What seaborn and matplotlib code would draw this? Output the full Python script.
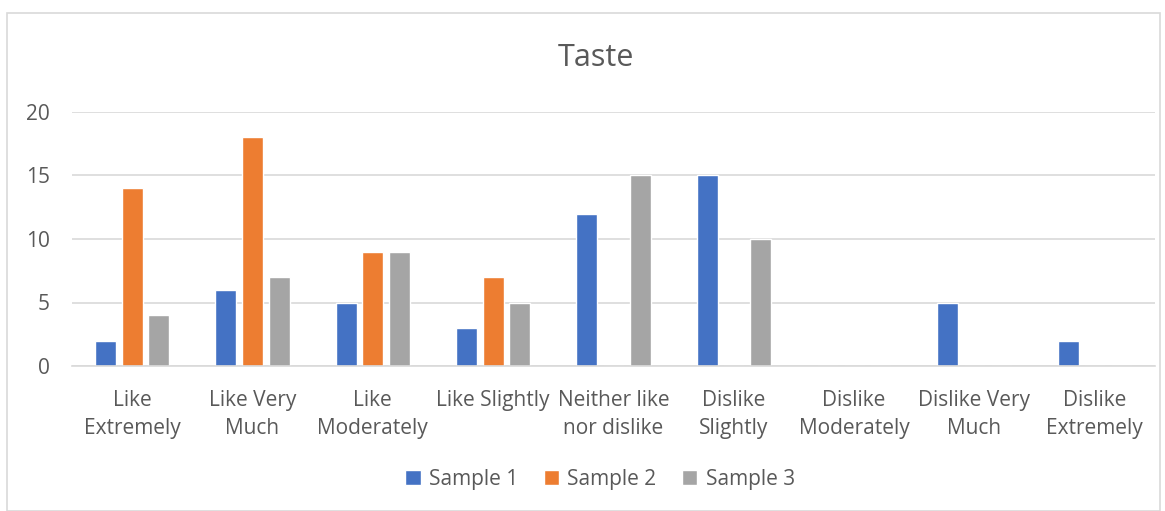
import pandas as pd
import matplotlib.pyplot as plt
import seaborn as sns
from matplotlib.patches import Rectangle

# Taste ratings per sample
categories = ['Like\nExtremely', 'Like Very\nMuch', 'Like\nModerately', 'Like Slightly',
              'Neither like\nnor dislike', 'Dislike\nSlightly', 'Dislike\nModerately',
              'Dislike Very\nMuch', 'Dislike\nExtremely']
samples = ['Sample 1', 'Sample 2', 'Sample 3']
sample1 = [2, 6, 5, 3, 12, 15, 0, 5, 2]
sample2 = [14, 18, 9, 7, 0, 0, 0, 0, 0]
sample3 = [4, 7, 9, 5, 15, 10, 0, 0, 0]
colors = ['#4472C4', '#ED7D31', '#A5A5A5']

df = pd.DataFrame({'category': categories * 3,
                   'sample': [s for s in samples for _ in categories],
                   'value': sample1 + sample2 + sample3})

sns.set_style('white')
plt.rcParams['font.family'] = ['Open Sans', 'DejaVu Sans']
text_col = '#595959'

fig = plt.figure(figsize=(11.65, 5.11), dpi=100)
ax = fig.add_axes([72 / 1165, 1 - 366 / 511, 1083 / 1165, 254 / 511])

sns.barplot(data=df, x='category', y='value', hue='sample', palette=colors,
            saturation=1, width=0.666, gap=0.21, order=categories,
            hue_order=samples, ax=ax, legend=True)

ax.set_ylim(0, 20)
ax.set_xlim(-0.5, len(categories) - 0.5)
ax.set_yticks([0, 5, 10, 15, 20])
ax.yaxis.grid(True, color='#D9D9D9', linewidth=1.2)
ax.set_axisbelow(True)
for s in ['left', 'right', 'top']:
    ax.spines[s].set_visible(False)
ax.spines['bottom'].set_color('#D9D9D9')
ax.spines['bottom'].set_linewidth(1.2)
ax.tick_params(axis='both', length=0, labelsize=15, colors=text_col)
ax.tick_params(axis='y', pad=16)
ax.tick_params(axis='x', pad=17)
for lbl in ax.get_xticklabels():
    lbl.set_linespacing(1.45)
ax.set_xlabel('')
ax.set_ylabel('')

fig.text(596 / 1165, 1 - 58 / 511, 'Taste', ha='center', va='center',
         fontsize=22, color=text_col)

handles, labels = ax.get_legend_handles_labels()
ax.legend_.remove()
fig.legend(handles, labels, loc='center', bbox_to_anchor=(600 / 1165, 1 - 479 / 511),
           ncol=3, frameon=False, fontsize=15, labelcolor=text_col,
           handlelength=0.75, handleheight=0.75, handletextpad=0.4, columnspacing=1.2)

fig.patches.append(Rectangle((7 / 1165, 0), 1153 / 1165, 1 - 13 / 511,
                             transform=fig.transFigure, fill=False,
                             edgecolor='#D9D9D9', linewidth=1.2))

plt.savefig('out.png', dpi=100)
